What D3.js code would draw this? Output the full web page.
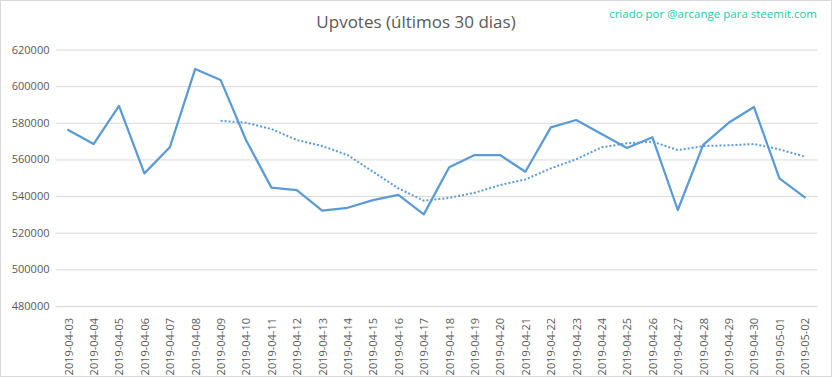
<!DOCTYPE html>
<html lang="pt">
  <head>
    <meta charset="utf-8">
    <script src="https://d3js.org/d3.v7.min.js"></script>
    <style>
    body { margin: 0; background: #fff; }
    text { font-family: "Open Sans", "Noto Sans", sans-serif; }
    </style>
  </head>
  <body>
    <div id="place"></div>
    <script type="text/javascript">
    // values
    var dates = ["2019-04-03","2019-04-04","2019-04-05","2019-04-06","2019-04-07","2019-04-08",
      "2019-04-09","2019-04-10","2019-04-11","2019-04-12","2019-04-13","2019-04-14","2019-04-15",
      "2019-04-16","2019-04-17","2019-04-18","2019-04-19","2019-04-20","2019-04-21","2019-04-22",
      "2019-04-23","2019-04-24","2019-04-25","2019-04-26","2019-04-27","2019-04-28","2019-04-29",
      "2019-04-30","2019-05-01","2019-05-02"];
    var upvotes = [576100, 568400, 589200, 552400, 566600, 609400, 603400, 570600, 544600, 543300,
      532000, 533600, 537800, 540700, 530000, 555700, 562400, 562400, 553300, 577500,
      581500, 573900, 566200, 572100, 532400, 567900, 580000, 588600, 549700, 539300];
    // dotted trend (moving average), starts on 2019-04-09
    var trend = [null, null, null, null, null, null, 581100, 580000, 576600, 570600,
      567300, 562400, 553300, 544200, 537500, 539000, 541800, 546000, 549100, 555100,
      560100, 566600, 568800, 569700, 565100, 567300, 567700, 568400, 565500, 561500];
    var yTicks = [480000, 500000, 520000, 540000, 560000, 580000, 600000, 620000];

    var width = 832, height = 379;
    var margin = { top: 49.5, left: 55.5, bottom: 306, right: 817.5 };

    var svg = d3.select('#place').append('svg')
      .attr('width', width)
      .attr('height', height);

    // chart border
    svg.append('rect')
      .attr('x', 0.5).attr('y', 0.5)
      .attr('width', width - 1).attr('height', height - 3)
      .attr('fill', '#fff')
      .attr('stroke', '#d9d9d9');

    var x = d3.scalePoint()
      .domain(dates)
      .range([margin.left, margin.right])
      .padding(0.5);

    var y = d3.scaleLinear()
      .domain([480000, 620000])
      .range([margin.bottom, margin.top]);

    // gridlines + y labels
    var yAxis = svg.append('g')
      .attr('transform', 'translate(' + margin.left + ',0)')
      .call(d3.axisLeft(y).tickValues(yTicks).tickFormat(d3.format('d'))
        .tickSize(-(margin.right - margin.left)).tickPadding(6));
    yAxis.select('.domain').remove();
    yAxis.selectAll('line').attr('stroke', '#d9d9d9');
    yAxis.selectAll('text')
      .attr('fill', '#595959')
      .style('font-size', '11px');

    // x labels, rotated
    var xAxis = svg.append('g')
      .attr('transform', 'translate(0,' + margin.bottom + ')')
      .call(d3.axisBottom(x).tickSize(0).tickPadding(0));
    xAxis.select('.domain').remove();
    xAxis.selectAll('text')
      .attr('fill', '#595959')
      .style('font-size', '11px')
      .attr('text-anchor', 'end')
      .attr('transform', 'rotate(-90)')
      .attr('x', -12)
      .attr('y', 0)
      .attr('dy', '0.35em');

    var line = d3.line()
      .defined(function (d) { return d != null; })
      .x(function (d, i) { return x(dates[i]); })
      .y(function (d) { return y(d); });

    svg.append('path')
      .datum(trend)
      .attr('fill', 'none')
      .attr('stroke', '#5b9bd5')
      .attr('stroke-width', 2)
      .attr('stroke-dasharray', '2,2')
      .attr('d', line);

    svg.append('path')
      .datum(upvotes)
      .attr('fill', 'none')
      .attr('stroke', '#5b9bd5')
      .attr('stroke-width', 2.25)
      .attr('stroke-linejoin', 'round')
      .attr('stroke-linecap', 'round')
      .attr('d', line);

    // title
    svg.append('text')
      .attr('x', 416)
      .attr('y', 28)
      .attr('text-anchor', 'middle')
      .attr('fill', '#595959')
      .style('font-size', '17px')
      .text('Upvotes (últimos 30 dias)');

    svg.append('text')
      .attr('x', 817)
      .attr('y', 18)
      .attr('text-anchor', 'end')
      .attr('fill', '#1fc7a3')
      .style('font-size', '11.5px')
      .text('criado por @arcange para steemit.com');
    </script>
  </body>
</html>
